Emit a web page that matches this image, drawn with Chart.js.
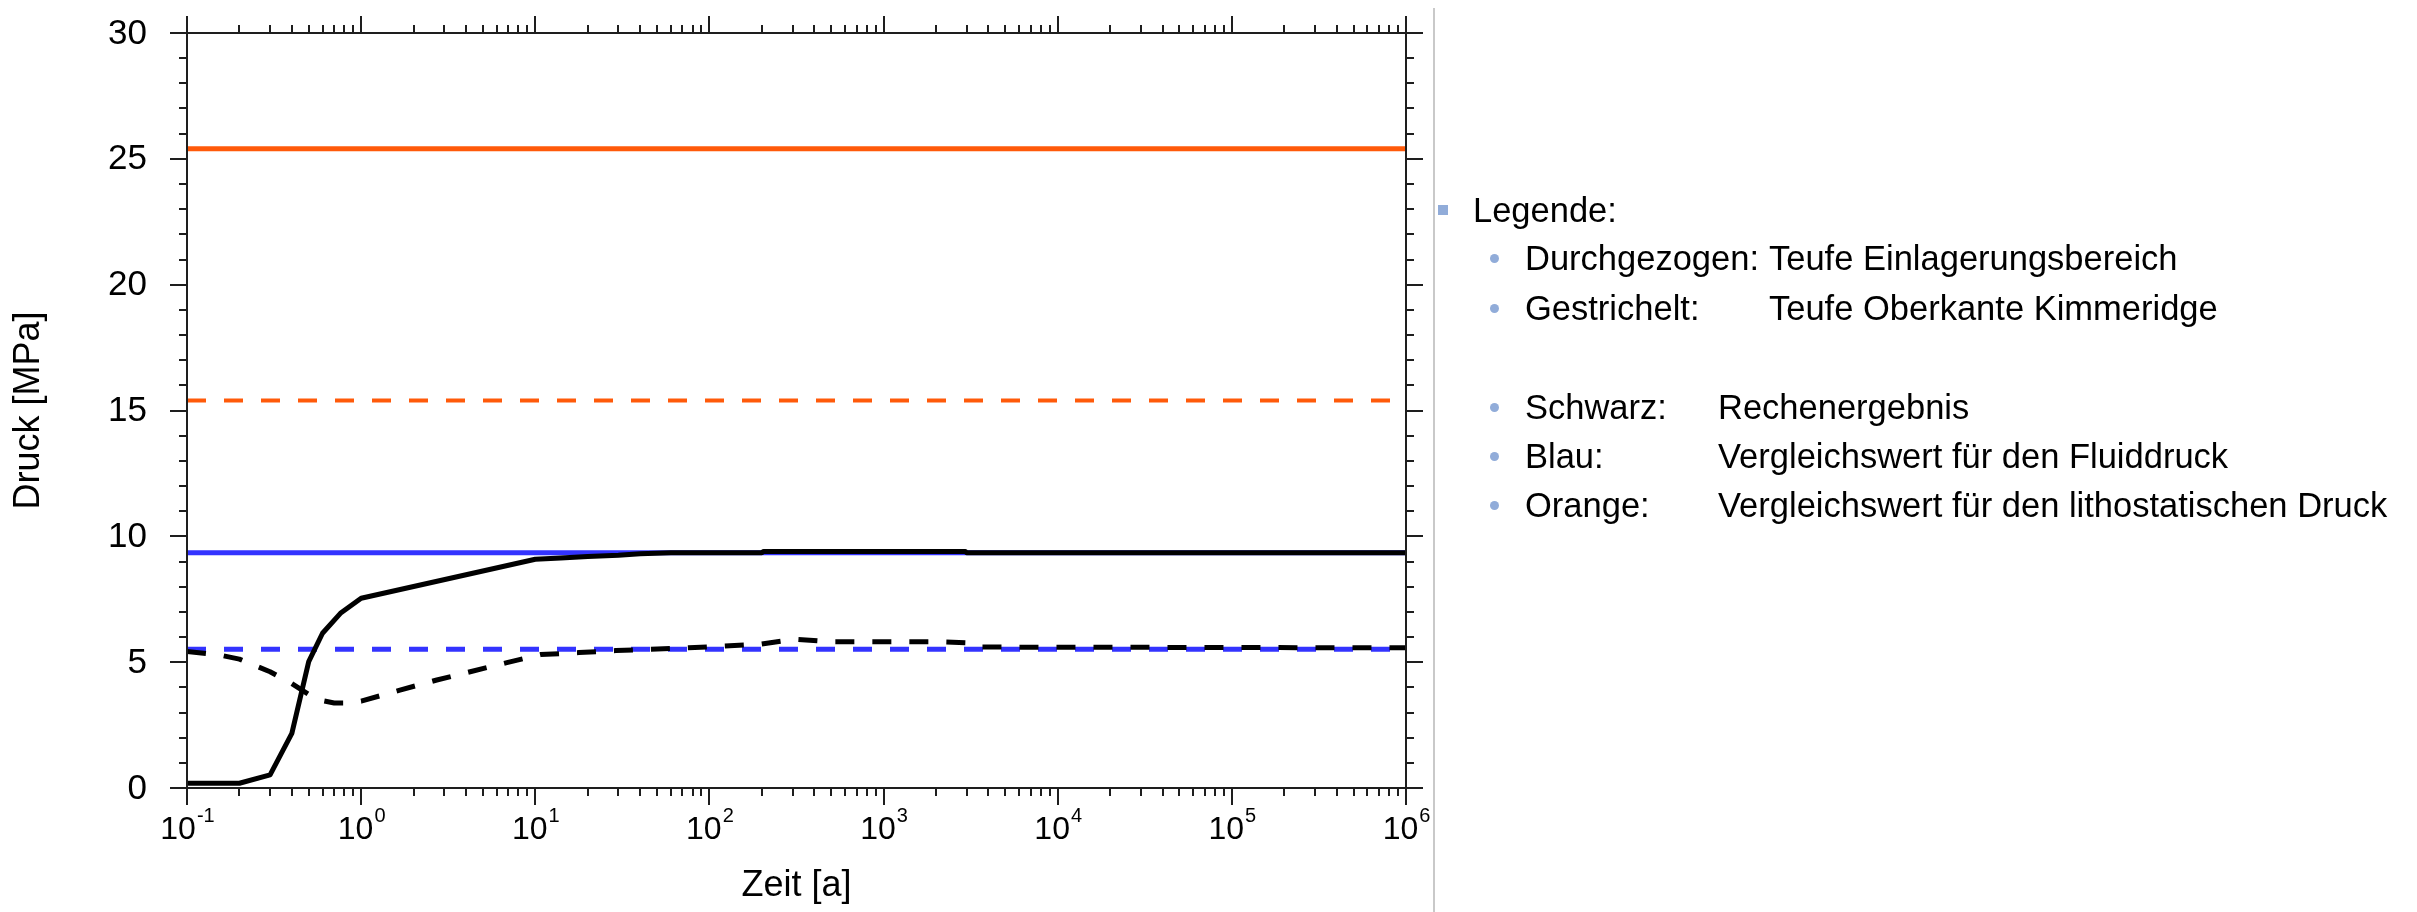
<!DOCTYPE html>
<html lang="de">
<head>
<meta charset="utf-8">
<title>Druck über Zeit</title>
<script src="https://cdn.jsdelivr.net/npm/chart.js@4.4.1/dist/chart.umd.min.js"></script>
<style>
  html, body { margin: 0; padding: 0; background: #fff; }
  #wrap { position: relative; width: 2417px; height: 912px; overflow: hidden;
          font-family: "Liberation Sans", Arial, sans-serif; color: #000; }
  #druck { position: absolute; left: 0; top: 0; }
  .sep { position: absolute; left: 1433px; top: 8px; width: 2px; height: 904px; background: #c9c9c9; }
  .lg { position: absolute; font-size: 34.5px; line-height: 34px; white-space: nowrap; }
  .sq { position: absolute; width: 10px; height: 10px; background: #91acd9; }
  .dot { position: absolute; width: 9px; height: 9px; border-radius: 50%; background: #91acd9; }
</style>
</head>
<body>
<div id="wrap">
  <canvas id="druck" width="2417" height="912"></canvas>
  <div class="sep"></div>

  <div class="sq" style="left:1438px; top:205px;"></div>
  <div class="lg" style="left:1473px; top:193px;">Legende:</div>

  <div class="dot" style="left:1490px; top:254px;"></div>
  <div class="lg" style="left:1525px; top:241px;">Durchgezogen:</div>
  <div class="lg" style="left:1769px; top:241px;">Teufe Einlagerungsbereich</div>

  <div class="dot" style="left:1490px; top:304px;"></div>
  <div class="lg" style="left:1525px; top:291px;">Gestrichelt:</div>
  <div class="lg" style="left:1769px; top:291px;">Teufe Oberkante Kimmeridge</div>

  <div class="dot" style="left:1490px; top:403px;"></div>
  <div class="lg" style="left:1525px; top:390px;">Schwarz:</div>
  <div class="lg" style="left:1718px; top:390px;">Rechenergebnis</div>

  <div class="dot" style="left:1490px; top:452px;"></div>
  <div class="lg" style="left:1525px; top:439px;">Blau:</div>
  <div class="lg" style="left:1718px; top:439px;">Vergleichswert für den Fluiddruck</div>

  <div class="dot" style="left:1490px; top:501px;"></div>
  <div class="lg" style="left:1525px; top:488px;">Orange:</div>
  <div class="lg" style="left:1718px; top:488px;">Vergleichswert für den lithostatischen Druck</div>
</div>

<script>
// Zeit [a] / Druck [MPa]
var timeSolid = [0.1, 0.2, 0.3, 0.4, 0.5, 0.6, 0.76, 1, 10, 14, 20, 30, 40, 60, 200, 205, 2950, 3000, 1e6];
var pressSolid = [0.19, 0.19, 0.52, 2.17, 5.02, 6.15, 6.94, 7.54, 9.09, 9.14, 9.2, 9.25, 9.31, 9.35, 9.35, 9.4, 9.4, 9.35, 9.35];

var timeDashed = [0.1, 0.15, 0.2, 0.3, 0.4, 0.5, 0.6, 0.7, 0.85, 1, 1.67, 2.72, 4.23, 6.87, 10.7, 17.8, 29, 46, 76, 123, 195, 310, 500, 2100, 3100, 3550, 1e6];
var pressDashed = [5.42, 5.3, 5.12, 4.62, 4.15, 3.72, 3.47, 3.38, 3.38, 3.45, 3.89, 4.29, 4.62, 4.98, 5.3, 5.38, 5.46, 5.51, 5.57, 5.64, 5.71, 5.91, 5.81, 5.81, 5.77, 5.6, 5.57];

// Vergleichswerte (konstant über die Zeit)
var timeRange = [0.1, 1e6];
var fluidSolid = 9.35;
var fluidDashed = 5.51;
var lithoSolid = 25.4;
var lithoDashed = 15.4;

var yTicks = [0, 5, 10, 15, 20, 25, 30];
var xExponents = [-1, 0, 1, 2, 3, 4, 5, 6];

function toPoints(xs, ys) {
    var pts = [];
    for (var i = 0; i < xs.length; i++) pts.push({ x: xs[i], y: ys[i] });
    return pts;
}

function flat(value) {
    return timeRange.map(function (t) { return { x: t, y: value }; });
}

var FONT = '"Liberation Sans", Arial, sans-serif';

// Rahmen mit Ticks auf allen vier Seiten, Beschriftung und Achsentitel
var frameAxes = {
    id: 'frameAxes',
    afterDatasetsDraw: function (chart) {
        var ctx = chart.ctx;
        var a = chart.chartArea;
        var x = chart.scales.x;
        var y = chart.scales.y;
        var major = 17, minor = 8;

        ctx.save();
        ctx.strokeStyle = '#1e1e1e';
        ctx.lineWidth = 2;
        ctx.beginPath();
        ctx.rect(a.left, a.top, a.right - a.left, a.bottom - a.top);

        // y: Hauptticks alle 5, Nebenticks alle 1
        for (var v = yTicks[0]; v <= yTicks[yTicks.length - 1]; v++) {
            var py = Math.round(y.getPixelForValue(v));
            var len = (yTicks.indexOf(v) >= 0) ? major : minor;
            ctx.moveTo(a.left - len, py); ctx.lineTo(a.left, py);
            ctx.moveTo(a.right, py); ctx.lineTo(a.right + len, py);
        }

        // x: Dekaden und 2..9 dazwischen
        for (var i = 0; i < xExponents.length; i++) {
            var dec = Math.pow(10, xExponents[i]);
            for (var k = 1; k <= 9; k++) {
                if (i === xExponents.length - 1 && k > 1) break;
                var px = Math.round(x.getPixelForValue(k * dec));
                var l = (k === 1) ? major : minor;
                ctx.moveTo(px, a.bottom); ctx.lineTo(px, a.bottom + l);
                ctx.moveTo(px, a.top - l); ctx.lineTo(px, a.top);
            }
        }
        ctx.stroke();

        // y-Beschriftung
        ctx.fillStyle = '#000';
        ctx.font = '35px ' + FONT;
        ctx.textAlign = 'right';
        ctx.textBaseline = 'middle';
        yTicks.forEach(function (t) {
            ctx.fillText(String(t), a.left - 40, y.getPixelForValue(t) + 1);
        });

        // x-Beschriftung als Zehnerpotenzen
        ctx.textAlign = 'left';
        ctx.textBaseline = 'alphabetic';
        xExponents.forEach(function (e) {
            var px = x.getPixelForValue(Math.pow(10, e));
            var sup = String(e);
            ctx.font = '32px ' + FONT;
            var wBase = ctx.measureText('10').width;
            ctx.font = '20px ' + FONT;
            var wSup = ctx.measureText(sup).width;
            var x0 = px - (wBase + wSup) / 2;
            ctx.font = '32px ' + FONT;
            ctx.fillText('10', x0, a.bottom + 51);
            ctx.font = '20px ' + FONT;
            ctx.fillText(sup, x0 + wBase + 1, a.bottom + 34);
        });

        // Achsentitel
        ctx.font = '36px ' + FONT;
        ctx.textAlign = 'center';
        ctx.fillText('Zeit [a]', (a.left + a.right) / 2, 896);

        ctx.translate(29, (a.top + a.bottom) / 2);
        ctx.rotate(-Math.PI / 2);
        ctx.textBaseline = 'middle';
        ctx.fillText('Druck [MPa]', 0, 0);
        ctx.restore();
    }
};

var ctx = document.getElementById('druck');

var myChart = new Chart(ctx, {
    type: 'line',
    data: {
        datasets: [
            {
                label: 'Rechenergebnis Einlagerungsbereich',
                data: toPoints(timeSolid, pressSolid),
                borderColor: '#000000',
                borderWidth: 5
            },
            {
                label: 'Rechenergebnis Oberkante Kimmeridge',
                data: toPoints(timeDashed, pressDashed),
                borderColor: '#000000',
                borderWidth: 5,
                borderDash: [19, 18]
            },
            {
                label: 'Fluiddruck Einlagerungsbereich',
                data: flat(fluidSolid),
                borderColor: '#3333ff',
                borderWidth: 5
            },
            {
                label: 'Fluiddruck Oberkante Kimmeridge',
                data: flat(fluidDashed),
                borderColor: '#3333ff',
                borderWidth: 5,
                borderDash: [19, 18]
            },
            {
                label: 'Lithostatischer Druck Einlagerungsbereich',
                data: flat(lithoSolid),
                borderColor: '#ff5a0a',
                borderWidth: 5
            },
            {
                label: 'Lithostatischer Druck Oberkante Kimmeridge',
                data: flat(lithoDashed),
                borderColor: '#ff5a0a',
                borderWidth: 4,
                borderDash: [19, 18]
            }
        ]
    },
    options: {
        responsive: false,
        animation: false,
        devicePixelRatio: 1,
        layout: { padding: { left: 187, top: 33, right: 1011, bottom: 124 } },
        elements: {
            point: { radius: 0 },
            line: { tension: 0, fill: false, borderJoinStyle: 'round' }
        },
        plugins: {
            legend: { display: false },
            tooltip: { enabled: false }
        },
        scales: {
            x: { type: 'logarithmic', min: 0.1, max: 1e6, display: false },
            y: { type: 'linear', min: 0, max: 30, display: false }
        }
    },
    plugins: [frameAxes]
});
</script>
</body>
</html>
